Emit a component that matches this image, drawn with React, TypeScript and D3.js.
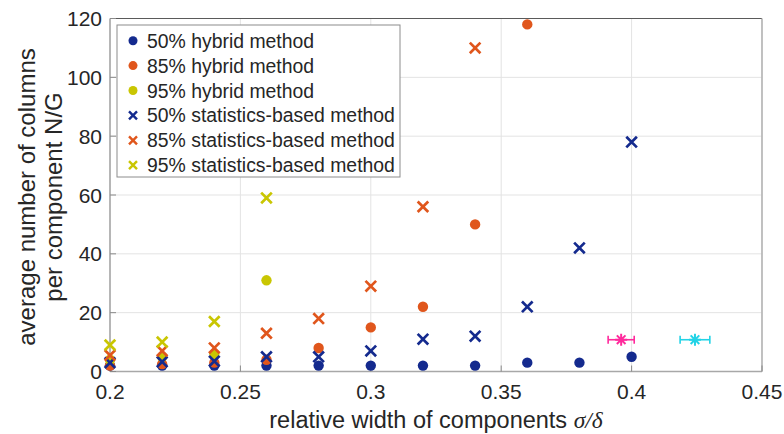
import React from 'react';
import * as d3 from 'd3';

// relative component width sigma/delta at which each method was evaluated
const widths = [0.2, 0.22, 0.24, 0.26, 0.28, 0.3, 0.32, 0.34, 0.36, 0.38, 0.4];

// average number of columns per component N/G
const hybrid50 = [2, 2, 2, 2, 2, 2, 2, 2, 3, 3, 5];
const hybrid85 = [2, 2.5, 3, 4, 8, 15, 22, 50, 118];
const hybrid95 = [4, 5, 6, 31];
const stats50 = [3, 3.3, 3.5, 5, 5, 7, 11, 12, 22, 42, 78];
const stats85 = [5.5, 7, 8, 13, 18, 29, 56, 110];
const stats95 = [9, 10, 17, 59];

// reference points with horizontal error bars
const refWidths = [0.396, 0.4243];
const refErrors = [0.005, 0.0057];
const refValues = [10.8, 10.8];
const refColors = ['#ff2a9c', '#22d3e6'];

const xTicks = [0.2, 0.25, 0.3, 0.35, 0.4, 0.45];
const yTicks = [0, 20, 40, 60, 80, 100, 120];

const seriesLabels = [
  '50% hybrid method',
  '85% hybrid method',
  '95% hybrid method',
  '50% statistics-based method',
  '85% statistics-based method',
  '95% statistics-based method',
];
const seriesColors = ['#142a8e', '#e0561c', '#c9c602', '#142a8e', '#e0561c', '#c9c602'];
const seriesValues = [hybrid50, hybrid85, hybrid95, stats50, stats85, stats95];
const seriesShapes = ['circle', 'circle', 'circle', 'cross', 'cross', 'cross'];

const W = 784;
const H = 434;
const left = 110;
const right = 762;
const top = 18.5;
const bottom = 371.5;

const x = d3.scaleLinear().domain([0.2, 0.45]).range([left, right]);
const y = d3.scaleLinear().domain([0, 120]).range([bottom, top]);

const FONT = '"Liberation Sans", Arial, Helvetica, sans-serif';

function Marker({ shape, cx, cy, color }: { shape: string; cx: number; cy: number; color: string }) {
  if (shape === 'circle') {
    return <circle cx={cx} cy={cy} r={5.2} fill={color} />;
  }
  const s = 5.3;
  return (
    <path
      d={`M${cx - s},${cy - s}L${cx + s},${cy + s}M${cx - s},${cy + s}L${cx + s},${cy - s}`}
      stroke={color}
      strokeWidth={2.7}
      fill="none"
    />
  );
}

function Star({ cx, cy, color }: { cx: number; cy: number; color: string }) {
  const s = 6;
  const d = s * 0.72;
  return (
    <path
      d={`M${cx},${cy - s}L${cx},${cy + s}M${cx - s},${cy}L${cx + s},${cy}M${cx - d},${cy - d}L${cx + d},${cy + d}M${cx - d},${cy + d}L${cx + d},${cy - d}`}
      stroke={color}
      strokeWidth={2}
      fill="none"
    />
  );
}

export default function App() {
  const legendX = 117;
  const legendY = 25;
  const legendW = 283;
  const legendH = 152;
  const rowH = 24.9;

  return (
    <svg
      width={W}
      height={H}
      viewBox={`0 0 ${W} ${H}`}
      style={{ position: 'fixed', left: 0, top: 0, background: '#fff' }}
      fontFamily={FONT}
    >
      <rect x={0} y={0} width={W} height={H} fill="#fff" />

      {/* grid */}
      <g stroke="#e3e3e3" strokeWidth={1}>
        {yTicks.map((t) => (
          <line key={`gy${t}`} x1={left} x2={right} y1={y(t)} y2={y(t)} />
        ))}
        {xTicks.map((t) => (
          <line key={`gx${t}`} x1={x(t)} x2={x(t)} y1={top} y2={bottom} />
        ))}
      </g>

      {/* axes box */}
      <line x1={left} x2={right} y1={top} y2={top} stroke="#5a5a5a" strokeWidth={1.2} />
      <line x1={right} x2={right} y1={top} y2={bottom} stroke="#b5b5b5" strokeWidth={1.6} />
      <line x1={left} x2={left} y1={top} y2={bottom} stroke="#a8a8a8" strokeWidth={1.6} />
      <line x1={left} x2={right} y1={bottom} y2={bottom} stroke="#a8a8a8" strokeWidth={1.6} />

      {/* inward ticks */}
      <g stroke="#8a8a8a" strokeWidth={1}>
        {xTicks.map((t) => (
          <line key={`tx${t}`} x1={x(t)} x2={x(t)} y1={bottom} y2={bottom - 6} />
        ))}
        {yTicks.map((t) => (
          <line key={`ty${t}`} x1={left} x2={left + 6} y1={y(t)} y2={y(t)} />
        ))}
      </g>

      {/* tick labels */}
      <g fill="#262626" fontSize={21}>
        {xTicks.map((t) => (
          <text key={`lx${t}`} x={x(t)} y={bottom + 27} textAnchor="middle">
            {String(t)}
          </text>
        ))}
        {yTicks.map((t) => (
          <text key={`ly${t}`} x={left - 8} y={y(t) + 7.5} textAnchor="end">
            {String(t)}
          </text>
        ))}
      </g>

      {/* axis labels */}
      <text x={(left + right) / 2 - 0} y={428} textAnchor="middle" fontSize={23.5} fill="#262626">
        relative width of components{' '}
        <tspan fontFamily='"Liberation Serif", "Times New Roman", serif' fontStyle="italic">
          σ/δ
        </tspan>
      </text>
      <g transform={`translate(0,${(top + bottom) / 2 + 2}) rotate(-90)`}>
        <text x={0} y={35} textAnchor="middle" fontSize={24} fill="#262626">
          average number of columns
        </text>
        <text x={0} y={62} textAnchor="middle" fontSize={24} fill="#262626">
          per component N/G
        </text>
      </g>

      {/* data */}
      {seriesValues.map((vals, si) => (
        <g key={`s${si}`}>
          {vals.map((v, i) => (
            <Marker
              key={i}
              shape={seriesShapes[si]}
              cx={x(widths[i])}
              cy={y(v)}
              color={seriesColors[si]}
            />
          ))}
        </g>
      ))}

      {/* reference points with error bars */}
      {refWidths.map((w, i) => {
        const cy = y(refValues[i]);
        const x0 = x(w - refErrors[i]);
        const x1 = x(w + refErrors[i]);
        return (
          <g key={`r${i}`} stroke={refColors[i]} strokeWidth={1.6} fill="none">
            <line x1={x0} x2={x1} y1={cy} y2={cy} />
            <line x1={x0} x2={x0} y1={cy - 4} y2={cy + 4} />
            <line x1={x1} x2={x1} y1={cy - 4} y2={cy + 4} />
            <Star cx={x(w)} cy={cy} color={refColors[i]} />
          </g>
        );
      })}

      {/* legend */}
      <rect
        x={legendX}
        y={legendY}
        width={legendW}
        height={legendH}
        fill="#fff"
        stroke="#8c8c8c"
        strokeWidth={1}
      />
      {seriesLabels.map((label, i) => {
        const cy = legendY + 15.7 + i * rowH;
        return (
          <g key={`lg${i}`}>
            {seriesShapes[i] === 'circle' ? (
              <circle cx={133} cy={cy} r={4.5} fill={seriesColors[i]} />
            ) : (
              <path
                d={`M${129},${cy - 4}L${137},${cy + 4}M${129},${cy + 4}L${137},${cy - 4}`}
                stroke={seriesColors[i]}
                strokeWidth={2.4}
              />
            )}
            <text x={147} y={cy + 7} fontSize={19.4} fill="#262626">
              {label}
            </text>
          </g>
        );
      })}
    </svg>
  );
}
